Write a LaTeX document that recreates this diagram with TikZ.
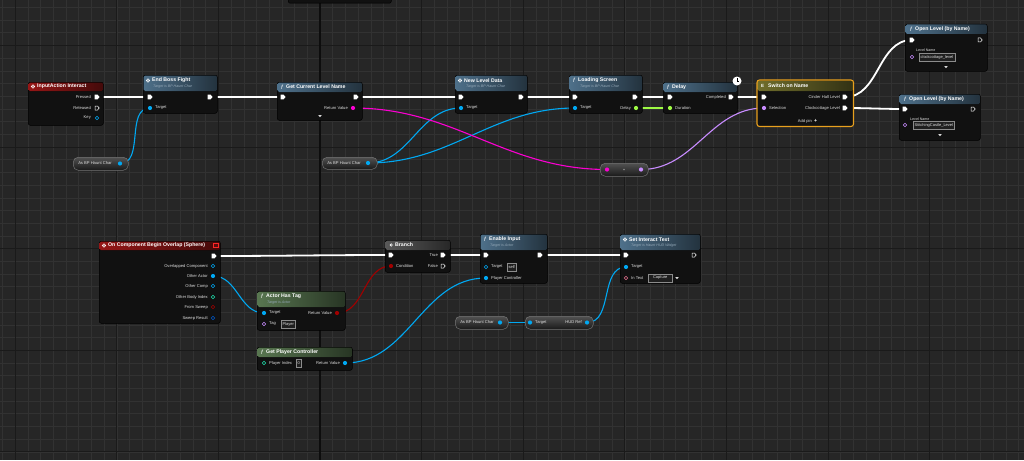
\documentclass[tikz,border=0pt]{standalone}
\usepackage{fontspec}
\setmainfont{Liberation Sans}
\pgfdeclarelayer{grid}
\pgfdeclarelayer{wires}
\pgfsetlayers{grid,wires,main}

\definecolor{bggrid}{RGB}{38,38,38}
\definecolor{gridmin}{RGB}{50,50,50}
\definecolor{gridmaj}{RGB}{26,26,26}
\definecolor{nodebody}{RGB}{17,17,17}
\definecolor{objblue}{RGB}{0,168,242}
\definecolor{structblue}{RGB}{0,87,200}
\definecolor{strpink}{RGB}{251,0,209}
\definecolor{namelilac}{RGB}{200,140,255}
\definecolor{floatgreen}{RGB}{158,250,68}
\definecolor{boolred}{RGB}{160,0,0}
\definecolor{intteal}{RGB}{31,224,173}
\definecolor{textpink}{RGB}{226,110,140}
\definecolor{evred}{RGB}{150,22,22}
\definecolor{fnblue}{RGB}{78,112,138}
\definecolor{purefn}{RGB}{88,118,80}
\definecolor{branchgray}{RGB}{88,88,88}
\definecolor{switcholive}{RGB}{112,110,44}
\definecolor{switchedge}{RGB}{232,160,30}
\definecolor{subtext}{RGB}{150,170,185}

% blueprint node: name, x, y, width, height, header height, header colour
\newcommand{\bpnode}[7]{%
  \node[bpbody, minimum width=#4pt, minimum height=#5pt] (#1) at (#2,#3) {};
  \fill[left color=#7, right color=#7!45!black, rounded corners=1.5pt]
    ([shift={(0.5,0.5)}]#1.north west) rectangle ([shift={(-0.5,#6)}]#1.north east);
}
% pins
\newcommand{\bpexec}[3]{\coordinate (#1) at (#2,#3); \pic at (#1) {execpin};}
\newcommand{\bpexeco}[3]{\coordinate (#1) at (#2,#3); \pic at (#1) {execopen};}
\newcommand{\bppin}[4]{\coordinate (#1) at (#2,#3); \fill[#4] (#1) circle (2.1pt);}
\newcommand{\bppinh}[4]{\coordinate (#1) at (#2,#3); \draw[#4, line width=0.6pt] (#1) circle (1.7pt);}

\begin{document}
\begin{tikzpicture}[x=1pt, y=-1pt,
    bpbody/.style={draw=black, fill=nodebody, rounded corners=2pt, anchor=north west,
      inner sep=0pt, line width=0.5pt},
    varpill/.style={anchor=north west, rounded corners=5pt, top color=black!68,
      bottom color=black!90, draw=black!55, line width=0.5pt, inner sep=0pt},
    bptitle/.style={font=\fontsize{5.2}{6}\selectfont\bfseries, text=white, inner sep=0pt, anchor=west},
    subtl/.style={font=\fontsize{3.6}{4}\selectfont\itshape, text=subtext, inner sep=0pt, anchor=west},
    pinlbl/.style={font=\fontsize{4.1}{5}\selectfont, text=black!12, inner sep=0pt},
    valbox/.style={draw=black!45, fill=black!88, font=\fontsize{4}{4.5}\selectfont, text=black!12,
      inner xsep=1.4pt, inner ysep=0.6pt, anchor=west, minimum height=7.5pt},
    execwire/.style={white, line width=1.8pt},
    wire/.style={line width=1.1pt},
    execpin/.pic={\fill[white] (-2.3,-2.3) -- (0.6,-2.3) -- (2.5,0) -- (0.6,2.3) -- (-2.3,2.3) -- cycle;},
    execopen/.pic={\draw[white, line width=0.5pt] (-2,-2) -- (0.5,-2) -- (2.2,0) -- (0.5,2) -- (-2,2) -- cycle;},
    advarrow/.pic={\fill[white!85!black] (-1.8,-1) -- (1.8,-1) -- (0,1.2) -- cycle;},
    evicon/.pic={\draw[white, line width=0.5pt] (0,0) circle (1.8pt); \fill[white] (0,0) circle (0.6pt);},
    fnicon/.pic={\node[bptitle, font=\fontsize{6}{6}\selectfont\itshape, anchor=center] {f};}
  ]
\useasboundingbox (0,0) rectangle (1024,460);

% background grid
\begin{pgfonlayer}{grid}
  \fill[bggrid] (0,0) rectangle (1024,460);
  \foreach \i in {0,...,80}
    \draw[gridmin, line width=0.5pt] ({2.5+12.7*\i},0) -- ++(0,460);
  \foreach \j in {0,...,36}
    \draw[gridmin, line width=0.5pt] (0,{7.3+12.7*\j}) -- ++(1024,0);
  \foreach \i in {0,...,9}
    \draw[gridmaj, line width=0.9pt] ({15.2+101.6*\i},0) -- ++(0,460);
  \foreach \j in {0,...,4}
    \draw[gridmaj, line width=0.9pt] (0,{45.4+101.6*\j}) -- ++(1024,0);
  \draw[black!95, line width=1.2pt] (320,0) -- (320,460);
\end{pgfonlayer}

% node cut off at the top
\node[bpbody, minimum width=103pt, minimum height=10pt] (topnode) at (288,-7) {};

% ---- upper graph ----
\bpnode{interact}{28}{82}{75}{43}{9}{evred}
\pic at (33,86.5) {evicon};
\node[bptitle] at (37,86.5) {InputAction Interact};
\bpexec{a-pressed}{97}{97}
\bpexeco{a-released}{97}{108}
\bppinh{a-key}{97}{118}{objblue}
\node[pinlbl, anchor=east] at (91,97) {Pressed};
\node[pinlbl, anchor=east] at (91,108) {Released};
\node[pinlbl, anchor=east] at (91,118) {Key};

\bpnode{bossfight}{143}{75}{74}{38}{16}{fnblue}
\pic at (148,80.5) {evicon};
\node[bptitle] at (152,80.5) {End Boss Fight};
\node[subtl] at (153,87) {Target is BP Haunt Char};
\bpexec{b-in}{150}{97}
\bpexec{b-out}{210}{97}
\bppin{b-target}{150}{108}{objblue}
\node[pinlbl, anchor=west] at (155,108) {Target};

\node[varpill, minimum width=55pt, minimum height=13pt] (hauntA) at (73,157) {};
\node[pinlbl] at (95,163.5) {As BP Haunt Char};
\bppin{v1-out}{120}{163.5}{objblue}

\bpnode{curlevel}{277}{82}{85}{38}{10}{fnblue}
\pic at (282,87) {fnicon};
\node[bptitle] at (286,87) {Get Current Level Name};
\bpexec{c-in}{283}{97}
\bpexec{c-out}{356}{97}
\bppin{c-ret}{353}{108}{strpink}
\node[pinlbl, anchor=east] at (348,108) {Return Value};
\pic at (320,116) {advarrow};

\bpnode{newlevel}{455}{75}{72}{38}{16}{fnblue}
\pic at (460,80.5) {evicon};
\node[bptitle] at (464,80.5) {New Level Data};
\node[subtl] at (466,87) {Target is BP Haunt Char};
\bpexec{d-in}{461}{97}
\bpexec{d-out}{521}{97}
\bppin{d-target}{461}{108}{objblue}
\node[pinlbl, anchor=west] at (466,108) {Target};

\bpnode{loading}{569}{75}{73}{38}{16}{fnblue}
\pic at (574,80.5) {fnicon};
\node[bptitle] at (578,80.5) {Loading Screen};
\node[subtl] at (580,87) {Target is BP Haunt Char};
\bpexec{e-in}{575}{97}
\bpexec{e-out}{635}{97}
\bppin{e-target}{575}{108}{objblue}
\bppin{e-delay}{636}{108}{floatgreen}
\node[pinlbl, anchor=west] at (580,108) {Target};
\node[pinlbl, anchor=east] at (631,108) {Delay};

\node[varpill, minimum width=55pt, minimum height=12pt] (hauntB) at (322,157) {};
\node[pinlbl] at (344,163) {As BP Haunt Char};
\bppin{v2-out}{368}{163}{objblue}

\node[varpill, minimum width=48pt, minimum height=13pt] (toname) at (600,163) {};
\bppin{k-in}{607}{169.5}{strpink}
\bppin{k-out}{641}{169.5}{namelilac}
\fill[black!45] (624,169.5) circle (0.8pt);

\bpnode{delay}{663}{82}{74}{31}{10}{fnblue}
\pic at (668,87) {fnicon};
\node[bptitle] at (672,87) {Delay};
\fill[white] (737,81) circle (4.5pt);
\draw[black, line width=0.5pt] (737,78.3) -- (737,81) -- (739.3,81);
\bpexec{f-in}{670}{97}
\bpexec{f-out}{731}{97}
\bppin{f-dur}{670}{108}{floatgreen}
\node[pinlbl, anchor=east] at (726,97) {Completed};
\node[pinlbl, anchor=west] at (675,108) {Duration};

\bpnode{switch}{757}{80}{96}{46}{11}{switcholive}
\draw[switchedge, line width=1.1pt, rounded corners=2.5pt] (switch.north west) rectangle (switch.south east);
\node[bptitle, font=\fontsize{4.5}{5}\selectfont\bfseries] at (761,85.5) {E};
\node[bptitle] at (768,85.5) {Switch on Name};
\bpexec{g-in}{764}{97}
\bppin{g-sel}{764}{108}{namelilac}
\bpexec{g-out1}{845}{97}
\bpexec{g-out2}{845}{108}
\node[pinlbl, anchor=west] at (769,108) {Selection};
\node[pinlbl, anchor=east] at (840,97) {Cinder Hall Level};
\node[pinlbl, anchor=east] at (840,108) {Clockcottage Level};
\node[pinlbl, anchor=east] at (812,121) {Add pin};
\node[bptitle] at (814,120.5) {+};

\bpnode{openA}{905}{24}{82}{47}{10}{fnblue}
\pic at (911,29) {fnicon};
\node[bptitle] at (915,29) {Open Level (by Name)};
\bpexec{h-in}{912}{40}
\bpexeco{h-out}{980}{40}
\node[pinlbl, anchor=west, font=\fontsize{3.6}{4}\selectfont] at (916,50) {Level Name};
\bppinh{h-name}{912}{57}{namelilac}
\node[valbox] at (919,57) {clockcottage\_level};
\pic at (946,67) {advarrow};

\bpnode{openB}{899}{94}{81}{46}{10}{fnblue}
\pic at (905,99) {fnicon};
\node[bptitle] at (909,99) {Open Level (by Name)};
\bpexec{i-in}{905}{109}
\bpexeco{i-out}{973}{109}
\node[pinlbl, anchor=west, font=\fontsize{3.6}{4}\selectfont] at (910,119) {Level Name};
\bppinh{i-name}{905}{125}{namelilac}
\node[valbox] at (913,125) {StitchingCastle\_Level};
\pic at (940,135) {advarrow};

% ---- lower graph ----
\bpnode{overlap}{99}{241}{121}{82}{9}{evred}
\pic at (104,245.5) {evicon};
\node[bptitle] at (108,245.5) {On Component Begin Overlap (Sphere)};
\draw[red!85!white, fill=evred!60!black, line width=0.6pt] (213.5,243) rectangle (218.5,247.5);
\bpexec{j-out}{214}{256}
\bppinh{j-comp}{213}{266}{objblue}
\bppin{j-actor}{213}{276}{objblue}
\bppinh{j-othercomp}{213}{286}{objblue}
\bppinh{j-index}{213}{297}{intteal}
\bppinh{j-sweep}{213}{307}{boolred}
\bppinh{j-result}{213}{318}{structblue}
\node[pinlbl, anchor=east] at (208,266) {Overlapped Component};
\node[pinlbl, anchor=east] at (208,276) {Other Actor};
\node[pinlbl, anchor=east] at (208,286) {Other Comp};
\node[pinlbl, anchor=east] at (208,297) {Other Body Index};
\node[pinlbl, anchor=east] at (208,307) {From Sweep};
\node[pinlbl, anchor=east] at (208,318) {Sweep Result};

\bpnode{hastag}{257}{291}{88}{39}{16}{purefn}
\pic at (262,296) {fnicon};
\node[bptitle] at (266,296) {Actor Has Tag};
\node[subtl] at (267,302.5) {Target is Actor};
\bppin{l-target}{264}{313}{objblue}
\bppinh{l-tag}{264}{324}{namelilac}
\bppin{l-ret}{337}{313}{boolred}
\node[pinlbl, anchor=west] at (269,313) {Target};
\node[pinlbl, anchor=west] at (269,324) {Tag};
\node[valbox] at (281,324) {Player};
\node[pinlbl, anchor=east] at (332,313) {Return Value};

\bpnode{getpc}{257}{347}{95}{23}{10}{purefn}
\pic at (262,352) {fnicon};
\node[bptitle] at (266,352) {Get Player Controller};
\bppinh{m-idx}{264}{363}{intteal}
\bppin{m-ret}{345}{363}{objblue}
\node[pinlbl, anchor=west] at (269,363) {Player Index};
\node[valbox] at (296,363) {0};
\node[pinlbl, anchor=east] at (340,363) {Return Value};

\bpnode{branch}{385}{240}{65}{32}{10}{branchgray}
\draw[white, line width=0.6pt] (391.5,243.5) -- (390,245) -- (391.5,246.5) (390,245) -- (393,245);
\node[bptitle] at (395,245) {Branch};
\bpexec{n-in}{391}{255}
\bpexec{n-true}{443}{255}
\bppin{n-cond}{391}{266}{boolred}
\bpexeco{n-false}{443}{266}
\node[pinlbl, anchor=east] at (438,255) {True};
\node[pinlbl, anchor=west] at (396,266) {Condition};
\node[pinlbl, anchor=east] at (438,266) {False};

\bpnode{enable}{480}{234}{67}{49}{16}{fnblue}
\pic at (485,239.5) {fnicon};
\node[bptitle] at (489,239.5) {Enable Input};
\node[subtl] at (490,246) {Target is Actor};
\bpexec{o-in}{486}{255}
\bpexec{o-out}{540}{255}
\bppinh{o-target}{486}{267}{objblue}
\bppin{o-pc}{486}{278}{objblue}
\node[pinlbl, anchor=west] at (491,267) {Target};
\node[valbox] at (507,267) {self};
\node[pinlbl, anchor=west] at (491,278) {Player Controller};

\bpnode{settext}{620}{234}{80}{49}{16}{fnblue}
\pic at (625,239.5) {evicon};
\node[bptitle] at (629,239.5) {Set Interact Text};
\node[subtl] at (631,246) {Target is Haunt HUD Widget};
\bpexec{p-in}{626}{255}
\bpexeco{p-out}{694}{255}
\bppin{p-target}{626}{267}{objblue}
\bppinh{p-text}{626}{278}{textpink}
\node[pinlbl, anchor=west] at (631,267) {Target};
\node[pinlbl, anchor=west] at (631,278) {In Text};
\node[valbox, minimum width=24pt] at (648,278) {Capture};
\pic at (677,278) {advarrow};

\node[varpill, minimum width=53pt, minimum height=13pt] (hauntC) at (455,316) {};
\node[pinlbl] at (477,322.5) {As BP Haunt Char};
\bppin{v3-out}{500}{322.5}{objblue}

\node[varpill, minimum width=68pt, minimum height=13pt] (hudref) at (525,316) {};
\bppin{q-in}{530}{322.5}{objblue}
\bppin{q-out}{587}{322.5}{objblue}
\node[pinlbl, anchor=west] at (535,322.5) {Target};
\node[pinlbl, anchor=east] at (582,322.5) {HUD Ref};

% ---- wires ----
\begin{pgfonlayer}{wires}
  \draw[execwire] (a-pressed) -- (b-in);
  \draw[execwire] (b-out) -- (c-in);
  \draw[execwire] (c-out) -- (d-in);
  \draw[execwire] (d-out) -- (e-in);
  \draw[execwire] (e-out) -- (f-in);
  \draw[execwire] (f-out) -- (g-in);
  \draw[execwire] (g-out1) to[out=0, in=180] (h-in);
  \draw[execwire] (g-out2) to[out=0, in=180] (i-in);
  \draw[execwire] (j-out) to[out=0, in=180] (n-in);
  \draw[execwire] (n-true) -- (o-in);
  \draw[execwire] (o-out) -- (p-in);

  \draw[wire, objblue] (v1-out) to[out=0, in=180] (b-target);
  \draw[wire, objblue] (v2-out) to[out=0, in=180] (d-target);
  \draw[wire, objblue] (v2-out) to[out=0, in=180] (e-target);
  \draw[wire, strpink] (c-ret) to[out=0, in=180] (k-in);
  \draw[wire, namelilac] (k-out) to[out=0, in=180] (g-sel);
  \draw[wire, floatgreen] (e-delay) -- (f-dur);
  \draw[wire, objblue] (j-actor) to[out=0, in=180] (l-target);
  \draw[wire, boolred] (l-ret) to[out=0, in=180] (n-cond);
  \draw[wire, objblue] (m-ret) to[out=0, in=180] (o-pc);
  \draw[wire, objblue] (v3-out) -- (q-in);
  \draw[wire, objblue] (q-out) to[out=0, in=180] (p-target);
\end{pgfonlayer}
\end{tikzpicture}
\end{document}
